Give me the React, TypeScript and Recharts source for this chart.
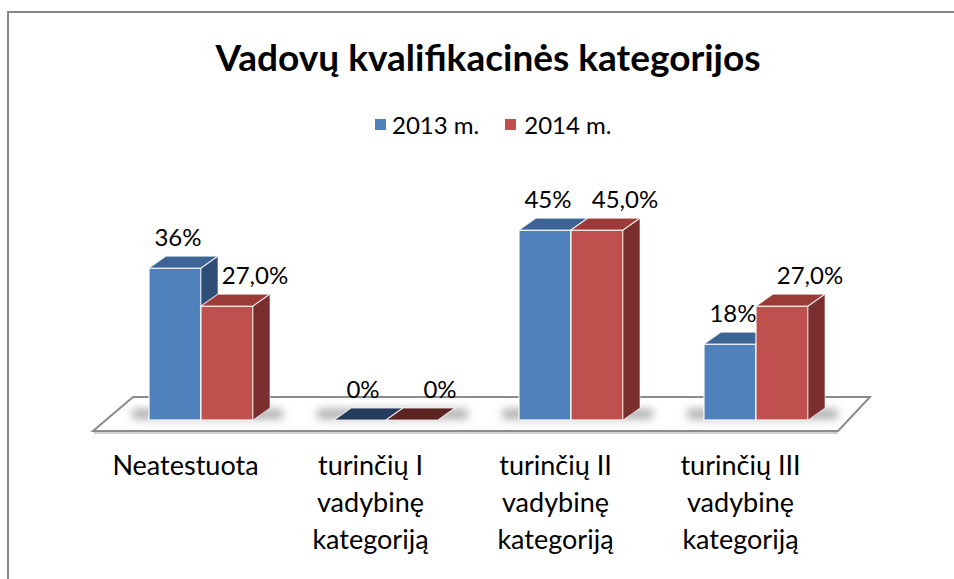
import React from "react";
import { BarChart, Bar, XAxis, YAxis, LabelList, ReferenceLine } from "recharts";

const categories = ["Neatestuota", "turinčių I\nvadybinę\nkategoriją", "turinčių II\nvadybinę\nkategoriją", "turinčių III\nvadybinę\nkategoriją"];
const values2013 = [36, 0, 45, 18];
const values2014 = [27, 0, 45, 27];
const seriesNames = ["2013 m.", "2014 m."];

const data = categories.map((name, i) => ({ name, y2013: values2013[i], y2014: values2014[i] }));

const DX = 17;
const DY = -12;
const FONT = "Lato, 'Open Sans', sans-serif";

const palette = {
  blue: { front: "#4F81BD", top: "#3C6494", side: "#2E4E77", flat: "#253B5C" },
  red: { front: "#C0504D", top: "#9A3B38", side: "#7A2E2D", flat: "#5C2523" },
};

function make3D(c: typeof palette.blue) {
  return (props: any) => {
    const { x, y, width: w, height: h } = props;
    if (x == null || y == null) return null;
    const flat = h < 1;
    return (
      <g>
        {!flat && (
          <>
            <rect x={x} y={y} width={w} height={h} fill={c.front} stroke="#ffffff" strokeOpacity={0.75} strokeWidth={1.5} />
            <polygon
              points={`${x + w},${y} ${x + w + DX},${y + DY} ${x + w + DX},${y + h + DY} ${x + w},${y + h}`}
              fill={c.side}
              stroke="#ffffff"
              strokeOpacity={0.6}
              strokeWidth={1}
            />
          </>
        )}
        <polygon
          points={`${x},${y} ${x + DX},${y + DY} ${x + w + DX},${y + DY} ${x + w},${y}`}
          fill={flat ? c.flat : c.top}
          stroke="#ffffff"
          strokeOpacity={0.75}
          strokeWidth={1.2}
        />
      </g>
    );
  };
}

function Floor(props: any) {
  const { x1, x2, y1 } = props;
  const y0 = y1;
  const n = categories.length;
  const band = (x2 - x1) / n;
  const pts = `${x1 - 15},${y0 + 11} ${x1 + 25},${y0 - 23} ${x2 + 22},${y0 - 23} ${x2 - 10},${y0 + 11}`;
  return (
    <g>
      <defs>
        <filter id="blurShadow" x="-50%" y="-200%" width="200%" height="500%">
          <feGaussianBlur stdDeviation="4" />
        </filter>
      </defs>
      <polygon points={pts} fill="#ffffff" stroke="#8c8c8c" strokeWidth={2} />
      <line x1={x1 - 14} y1={y0 + 13} x2={x2 - 10} y2={y0 + 13} stroke="#d0d0d0" strokeWidth={2} />
      {categories.map((_, i) => {
        const cx = x1 + band * (i + 0.5);
        return <rect key={i} x={cx - 68} y={y0 - 11} width={150} height={10} fill="#9a9a9a" opacity={0.8} filter="url(#blurShadow)" />;
      })}
    </g>
  );
}

function CategoryTick(props: any) {
  const { x, y, payload } = props;
  const lines = String(payload.value).split("\n");
  return (
    <text x={x - 15} y={y + 55} textAnchor="middle" fontFamily={FONT} fontSize={27} fill="#000">
      {lines.map((l, i) => (
        <tspan key={i} x={x - 15} dy={i === 0 ? 0 : 37}>
          {l}
        </tspan>
      ))}
    </text>
  );
}

function makeLabel(shift: number, fmt: (v: number) => string) {
  return (props: any) => {
    const { x, y, width, value } = props;
    return (
      <text x={x + width / 2 + shift} y={y + DY - 10} textAnchor="middle" fontFamily={FONT} fontSize={24} fill="#000">
        {fmt(value)}
      </text>
    );
  };
}

export default function App() {
  return (
    <div style={{ position: "absolute", left: 0, top: 0, width: 954, height: 579, overflow: "hidden", background: "#fff" }}>
      <div style={{ position: "absolute", left: 7, top: 11, width: 1000, height: 700, borderLeft: "2px solid #878787", borderTop: "2px solid #878787" }} />
      <div style={{ position: "absolute", left: 0, top: 34, width: 976, textAlign: "center", fontFamily: FONT, fontWeight: 700, fontSize: 37, color: "#000" }}>
        Vadovų kvalifikacinės kategorijos
      </div>
      <div style={{ position: "absolute", left: 375, top: 110, display: "flex", alignItems: "center", fontFamily: FONT, fontSize: 24, color: "#000" }}>
        <span style={{ width: 11, height: 11, background: palette.blue.front, display: "inline-block", marginRight: 6 }} />
        <span style={{ marginRight: 26 }}>{seriesNames[0]}</span>
        <span style={{ width: 11, height: 11, background: palette.red.front, display: "inline-block", marginRight: 8 }} />
        <span>{seriesNames[1]}</span>
      </div>
      <div style={{ position: "absolute", left: 0, top: 0 }}>
        <BarChart width={954} height={579} data={data} margin={{ top: 209, right: 106, left: 108, bottom: 0 }} barGap={0} barSize={52}>
          <XAxis dataKey="name" axisLine={false} tickLine={false} tickSize={0} tickMargin={0} height={159} interval={0} tick={<CategoryTick />} />
          <YAxis hide domain={[0, 50]} />
          <ReferenceLine y={0} shape={<Floor />} zIndex={-10} />
          <Bar dataKey="y2013" name={seriesNames[0]} fill={palette.blue.front} shape={make3D(palette.blue)} isAnimationActive={false}>
            <LabelList dataKey="y2013" content={makeLabel(3, (v) => `${v}%`)} />
          </Bar>
          <Bar dataKey="y2014" name={seriesNames[1]} fill={palette.red.front} shape={make3D(palette.red)} isAnimationActive={false}>
            <LabelList dataKey="y2014" content={makeLabel(28, (v) => (v === 0 ? "0%" : `${v.toFixed(1).replace(".", ",")}%`))} />
          </Bar>
        </BarChart>
      </div>
    </div>
  );
}
